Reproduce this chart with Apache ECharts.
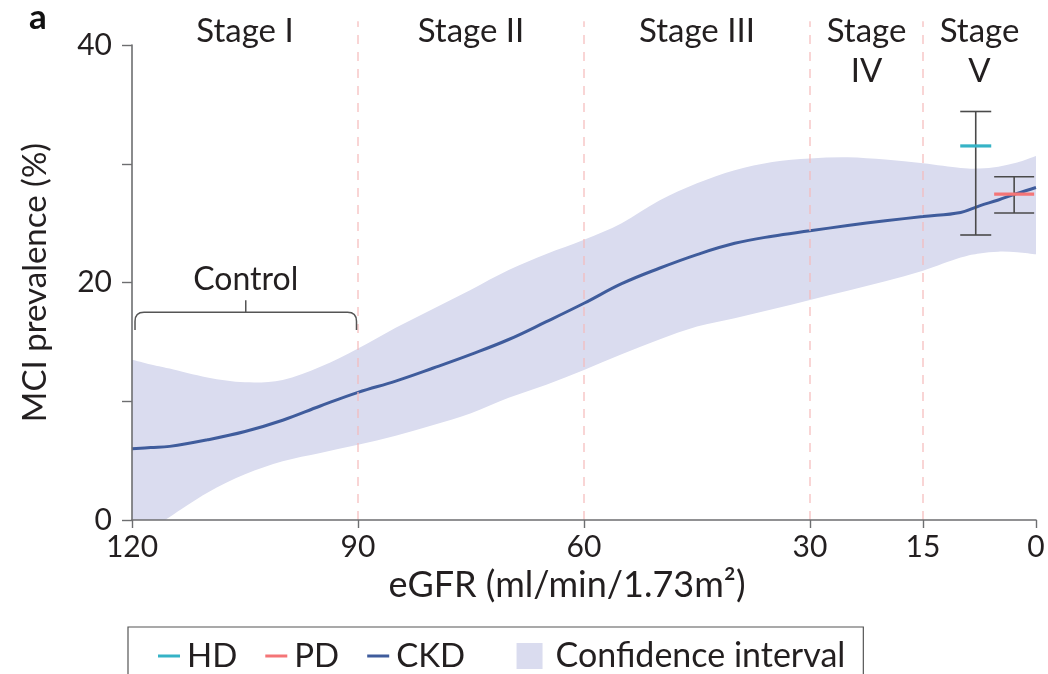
<!DOCTYPE html>
<html><head><meta charset="utf-8">
<script src="https://cdn.jsdelivr.net/npm/echarts@6/dist/echarts.min.js"></script>
<style>html,body{margin:0;padding:0;background:#fff}#c{width:1048px;height:674px}</style>
</head><body><div id="c"></div>
<script>
// ---- data ----
const egfr    = [120,117.5,115,110,105,100,95,90,85,80,75,70,65,60,55,50,45,40,35,30,25,20,15,10,7.5,5,2.5,0];
const ckd     = [6.0,6.1,6.2,6.75,7.45,8.4,9.6,10.75,11.7,12.8,13.95,15.2,16.7,18.25,19.9,21.2,22.35,23.3,23.9,24.35,24.8,25.2,25.55,25.9,26.45,26.95,27.5,28.0];
const ciUpper = [13.5,13.1,12.75,12.0,11.6,11.8,12.9,14.45,16.2,17.8,19.4,21.05,22.4,23.6,25.0,26.9,28.35,29.45,30.15,30.45,30.55,30.35,30.05,29.65,29.6,29.75,30.1,30.65];
const ciLower = [-2.6,-0.9,0.25,2.3,3.85,4.95,5.65,6.33,7.1,8.0,9.0,10.3,11.4,12.63,13.95,15.2,16.3,17.0,17.75,18.53,19.3,20.1,21.0,22.1,22.45,22.6,22.55,22.37];

const dialysisNames = ['HD','PD'];
const dialysisEgfr  = [8.0, 2.9];
const dialysisMean  = [31.5, 27.45];
const dialysisLow   = [24.0, 25.85];
const dialysisHigh  = [34.4, 28.9];

const stageBounds  = [90, 60, 30, 15];
const stageNames   = ['Stage I','Stage II','Stage III','Stage\nIV','Stage\nV'];
const stageCenters = [105, 75, 45, 22.5, 7.5];
const controlRange = [119.6, 90.2];
const controlLabel = 'Control';

const xTickValues = [120, 90, 60, 30, 15, 0];
const yTickValues = [0, 10, 20, 30, 40];
const yLabelValues = [0, 20, 40];

// ---- styles ----
const FONT = 'Lato';
const TXT = '#231f20';
const AXIS = '#6d6e70';
const C_HD = '#36b3c6', C_PD = '#f47577', C_CKD = '#3f5c9c', C_CI = '#dadcef';
const DASH = '#f6b9b9';

const chart = echarts.init(document.getElementById('c'), null, {renderer: 'canvas'});

// Catmull-Rom spline through pixel points -> bezier path commands
function splineCmds(pts, start) {
  let d = start ? `M${pts[0][0]},${pts[0][1]}` : `L${pts[0][0]},${pts[0][1]}`;
  for (let i = 0; i < pts.length - 1; i++) {
    const p0 = pts[i - 1] || pts[i], p1 = pts[i], p2 = pts[i + 1], p3 = pts[i + 2] || pts[i + 1];
    const c1 = [p1[0] + (p2[0] - p0[0]) / 6, p1[1] + (p2[1] - p0[1]) / 6];
    const c2 = [p2[0] - (p3[0] - p1[0]) / 6, p2[1] - (p3[1] - p1[1]) / 6];
    d += ` C${c1[0]},${c1[1]} ${c2[0]},${c2[1]} ${p2[0]},${p2[1]}`;
  }
  return d;
}

const series = [];

// confidence band: one custom polygon from the upper and lower bounds
series.push({
  name: 'Confidence interval', type: 'custom', silent: true, clip: true,
  itemStyle: {color: C_CI},
  data: egfr.map((x, i) => [x, ciLower[i], ciUpper[i]]),
  encode: {x: 0, y: [1, 2]},
  renderItem: (params, api) => {
    if (params.dataIndex !== 0) return null;
    const n = params.dataInsideLength;
    const up = [], lo = [];
    for (let i = 0; i < n; i++) {
      const x = api.value(0, i);
      up.push(api.coord([x, api.value(2, i)]));
      lo.push(api.coord([x, api.value(1, i)]));
    }
    const d = splineCmds(up, true) + ' ' + splineCmds(lo.slice().reverse(), false) + ' Z';
    return {type: 'path', shape: {pathData: d}, style: {fill: api.visual('color'), stroke: null},
      clipPath: {type: 'rect', shape: {x: params.coordSys.x, y: params.coordSys.y, width: params.coordSys.width, height: params.coordSys.height}}};
  },
  z: 1
});

// CKD curve
series.push({
  name: 'CKD', type: 'line',
  data: egfr.map((x, i) => [x, ckd[i]]),
  smooth: 0.4, showSymbol: false, symbol: 'none', silent: true,
  itemStyle: {color: C_CKD},
  lineStyle: {color: C_CKD, width: 3}, z: 3
});

// stage boundaries
stageBounds.forEach(b => {
  series.push({
    type: 'line', data: [[b, 0], [b, 42]], clip: false, silent: true,
    showSymbol: false, symbol: 'none',
    lineStyle: {color: DASH, width: 1.2, type: [9, 8]}, z: 4
  });
});

// stage labels
series.push({
  type: 'scatter', clip: false, silent: true, symbolSize: 0,
  itemStyle: {opacity: 1},
  data: stageCenters.map((c, i) => ({value: [c, 42.85], name: stageNames[i]})),
  label: {show: true, position: 'bottom', distance: 0, formatter: p => p.name, opacity: 1,
    fontFamily: FONT, fontSize: 33, lineHeight: 40, color: TXT, align: 'center'},
  z: 5
});

// control bracket
series.push({
  type: 'custom', silent: true, clip: false,
  data: [[controlRange[0], controlRange[1]]],
  renderItem: (params, api) => {
    const xa = api.value(0), xb = api.value(1);
    const pA = api.coord([xa, 17.5]), pB = api.coord([xb, 17.5]);
    const yBot = api.coord([xa, 16.0])[1];
    const yTick = api.coord([xa, 18.5])[1];
    const yTop = pA[1];
    const xm = (pA[0] + pB[0]) / 2;
    const r = 9;
    const d = `M${pA[0]},${yBot} L${pA[0]},${yTop + r} Q${pA[0]},${yTop} ${pA[0] + r},${yTop} L${pB[0] - r},${yTop} Q${pB[0]},${yTop} ${pB[0]},${yTop + r} L${pB[0]},${yBot} M${xm},${yTop} L${xm},${yTick}`;
    const tp = api.coord([(xa + xb) / 2, 20.2]);
    return {type: 'group', children: [
      {type: 'path', shape: {pathData: d}, style: {fill: 'none', stroke: '#555', lineWidth: 1.5}},
      {type: 'text', x: tp[0], y: tp[1], style: {text: controlLabel, fontFamily: FONT, fontSize: 32, fill: TXT, align: 'center', verticalAlign: 'middle'}}
    ]};
  },
  z: 5
});

// dialysis error bars
const capHalf = {HD: 15.5, PD: 20};
dialysisNames.forEach((nm, i) => {
  series.push({
    name: nm, type: 'custom', silent: true, clip: false,
    itemStyle: {color: nm === 'HD' ? C_HD : C_PD},
    data: [[dialysisEgfr[i], dialysisMean[i], dialysisLow[i], dialysisHigh[i]]],
    renderItem: (params, api) => {
      const x = api.value(0);
      const pm = api.coord([x, api.value(1)]);
      const pl = api.coord([x, api.value(2)]);
      const ph = api.coord([x, api.value(3)]);
      const h = capHalf[nm];
      const st = {stroke: '#4a4a4a', lineWidth: 1.6};
      return {type: 'group', children: [
        {type: 'line', shape: {x1: pl[0], y1: pl[1], x2: ph[0], y2: ph[1]}, style: st},
        {type: 'line', shape: {x1: ph[0] - h, y1: ph[1], x2: ph[0] + h, y2: ph[1]}, style: st},
        {type: 'line', shape: {x1: pl[0] - h, y1: pl[1], x2: pl[0] + h, y2: pl[1]}, style: st},
        {type: 'line', shape: {x1: pm[0] - h, y1: pm[1], x2: pm[0] + h, y2: pm[1]}, style: {stroke: api.visual('color'), lineWidth: 3.2}}
      ]};
    },
    z: 6
  });
});

const lineIcon = 'path://M0,0M26,26M2,11.5H24V14.5H2Z';
const boxIcon = 'path://M0,0H26V26H0Z';

chart.setOption({
  animation: false,
  backgroundColor: '#fff',
  grid: {left: 132, right: 12, top: 45, bottom: 154, containLabel: false},
  graphic: [{type: 'text', left: 29, top: 0, style: {text: 'a', fontFamily: FONT, fontWeight: 'bold', fontSize: 35, fill: '#111'}}],
  xAxis: {
    type: 'value', min: 0, max: 120, inverse: true, interval: 15,
    name: 'eGFR (ml/min/1.73m²)', nameLocation: 'middle', nameGap: 46,
    nameTextStyle: {fontFamily: FONT, fontSize: 36, color: TXT, padding: [0, 34, 0, 0]},
    axisLine: {show: true, onZero: false, lineStyle: {color: AXIS, width: 1.6}},
    axisTick: {show: true, length: 8, lineStyle: {color: AXIS, width: 1.4}, customValues: xTickValues},
    axisLabel: {fontFamily: FONT, fontSize: 30, color: TXT, margin: 12, customValues: xTickValues},
    splitLine: {show: false}, minorTick: {show: false}, z: 10
  },
  yAxis: {
    type: 'value', min: 0, max: 40, interval: 10,
    name: 'MCI prevalence (%)', nameLocation: 'middle', nameGap: 80,
    nameTextStyle: {fontFamily: FONT, fontSize: 33, color: TXT},
    axisLine: {show: true, onZero: false, lineStyle: {color: AXIS, width: 1.6}},
    axisTick: {show: true, length: 10, lineStyle: {color: AXIS, width: 1.4}, customValues: yTickValues},
    axisLabel: {fontFamily: FONT, fontSize: 30, color: TXT, margin: 20, customValues: yLabelValues},
    splitLine: {show: false}, minorTick: {show: false}, z: 10
  },
  legend: {
    top: 627, left: 128, orient: 'horizontal',
    itemWidth: 26, itemHeight: 26, itemGap: 26,
    padding: [12, 18, 24, 28],
    borderColor: '#555', borderWidth: 1.2,
    selectedMode: false,
    textStyle: {fontFamily: FONT, fontSize: 33, color: TXT,
      rich: {
        ci: {fontFamily: FONT, fontSize: 34, color: TXT, padding: [0, 0, 0, 8]}
      }},
    formatter: n => n === 'CKD' ? 'CKD\u00a0\u00a0\u00a0' : (n === 'Confidence interval' ? '{ci|Confidence interval}' : n),
    data: [
      {name: 'HD', icon: lineIcon, itemStyle: {color: C_HD, borderWidth: 0}},
      {name: 'PD', icon: lineIcon, itemStyle: {color: C_PD, borderWidth: 0}},
      {name: 'CKD', icon: lineIcon, itemStyle: {color: C_CKD, borderWidth: 0}},
      {name: 'Confidence interval', icon: boxIcon, itemStyle: {color: C_CI, borderWidth: 0}}
    ]
  },
  series: series
});
</script></body></html>
